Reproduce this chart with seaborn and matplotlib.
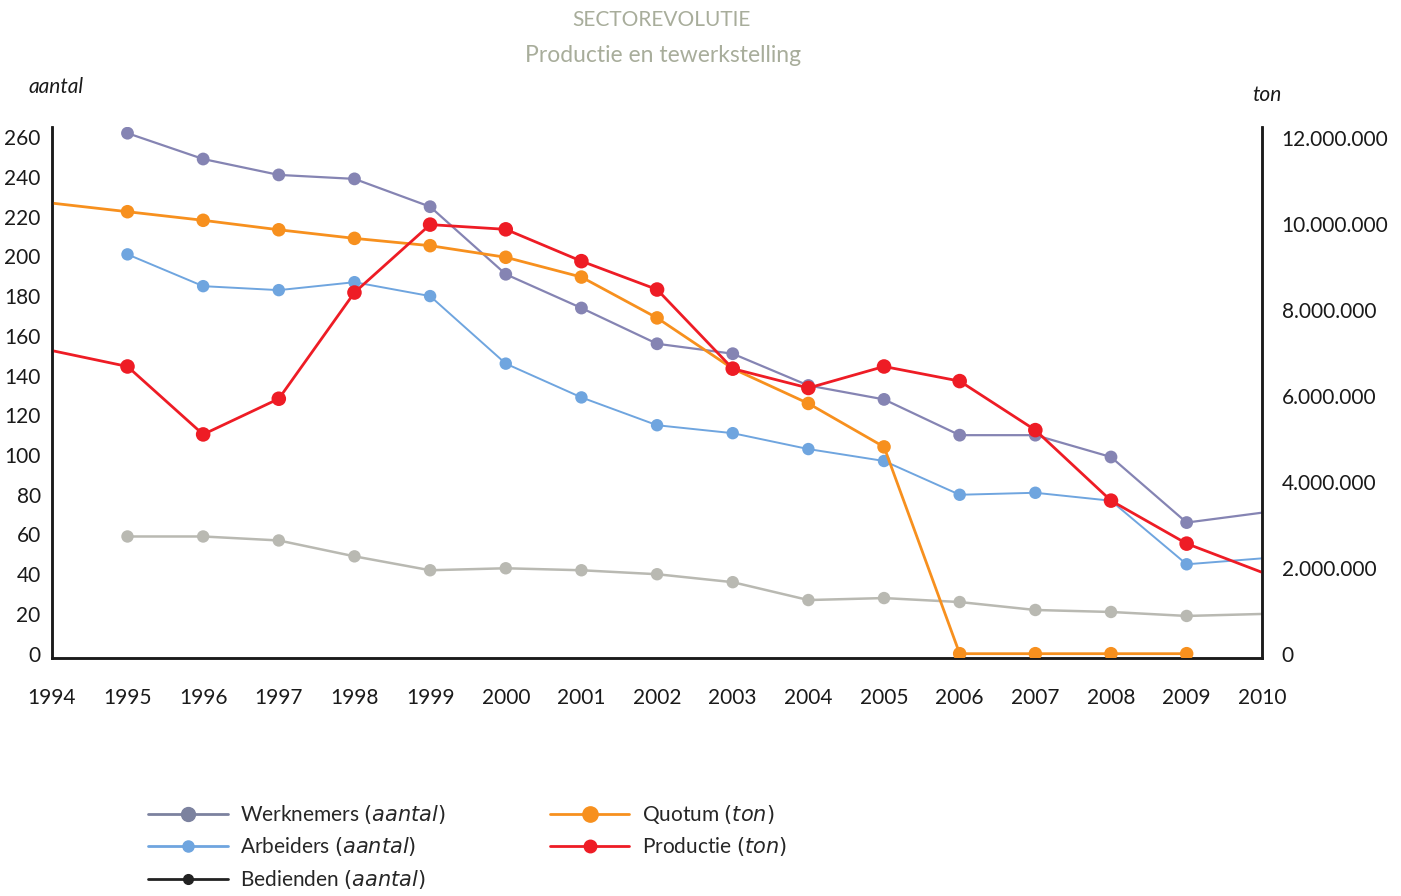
import matplotlib
matplotlib.use("Agg")
import matplotlib.pyplot as plt
import seaborn as sns
import pandas as pd
from matplotlib.lines import Line2D
from matplotlib.ticker import FuncFormatter

years = list(range(1994, 2011))

# aantal (left axis), 1995-2010
werknemers = [262, 249, 241, 239, 225, 191, 174, 156, 151, 135, 128, 110, 110, 99, 66, 71]
arbeiders = [201, 185, 183, 187, 180, 146, 129, 115, 111, 103, 97, 80, 81, 77, 45, 48]
bedienden = [59, 59, 57, 49, 42, 43, 42, 40, 36, 27, 28, 26, 22, 21, 19, 20]

# ton (right axis)
quotum = [10.48e6, 10.28e6, 10.08e6, 9.86e6, 9.66e6, 9.49e6, 9.22e6, 8.76e6, 7.81e6,
          6.63e6, 5.82e6, 4.81e6, 0, 0, 0, 0]  # 1994-2009
productie = [7.05e6, 6.68e6, 5.10e6, 5.93e6, 8.40e6, 9.98e6, 9.87e6, 9.13e6, 8.47e6,
             6.63e6, 6.18e6, 6.68e6, 6.34e6, 5.20e6, 3.56e6, 2.56e6, 1.89e6]  # 1994-2010

df_aantal = pd.DataFrame({"jaar": years[1:], "Werknemers": werknemers,
                          "Arbeiders": arbeiders, "Bedienden": bedienden})
df_quotum = pd.DataFrame({"jaar": years[:-1], "Quotum": quotum})
df_prod = pd.DataFrame({"jaar": years, "Productie": productie})

c_werk = "#8584b3"
c_arb = "#6fa5df"
c_bed = "#b9b9b2"
c_quo = "#f7901e"
c_prod = "#ee1c25"
title_col = "#a8ad9b"

sns.set_style("white")
plt.rcParams["font.family"] = ["Lato", "DejaVu Sans"]

fig = plt.figure(figsize=(14.01, 8.96), dpi=100)
ax = fig.add_axes([0.037, 0.266, 0.864, 0.592])
ax2 = ax.twinx()

scale = 12e6 / 259.7
ymin, ymax = -2, 265
ax.set_ylim(ymin, ymax)
ax2.set_ylim(ymin * scale, ymax * scale)
ax.set_xlim(1994, 2010)

mk = (df_aantal["jaar"] >= 1995) & (df_aantal["jaar"] <= 2009)
for col, c, lw, s in [("Bedienden", c_bed, 1.8, 80),
                      ("Arbeiders", c_arb, 1.4, 80),
                      ("Werknemers", c_werk, 1.6, 85)]:
    sns.lineplot(data=df_aantal, x="jaar", y=col, color=c, lw=lw, ax=ax)
    sns.scatterplot(data=df_aantal[mk], x="jaar", y=col, color=c, s=s,
                    edgecolor="none", ax=ax, zorder=3)

mq = df_quotum["jaar"] >= 1995
sns.lineplot(data=df_quotum, x="jaar", y="Quotum", color=c_quo, lw=2, ax=ax2)
sns.scatterplot(data=df_quotum[mq], x="jaar", y="Quotum", color=c_quo, s=95,
                edgecolor="none", ax=ax2, zorder=3)

mp = (df_prod["jaar"] >= 1995) & (df_prod["jaar"] <= 2009)
sns.lineplot(data=df_prod, x="jaar", y="Productie", color=c_prod, lw=2, ax=ax2)
sns.scatterplot(data=df_prod[mp], x="jaar", y="Productie", color=c_prod, s=110,
                edgecolor="none", ax=ax2, zorder=3)

for a in (ax, ax2):
    a.set_xlabel("")
    a.set_ylabel("")
    a.spines["top"].set_visible(False)
    for sp in ("left", "right", "bottom"):
        a.spines[sp].set_color("#1a1a1a")
        a.spines[sp].set_linewidth(1.8)
    a.tick_params(length=0)

ax.set_yticks(range(0, 261, 20))
ax.set_xticks(years)
ax.tick_params(axis="y", labelsize=15, pad=8, colors="#1a1a1a")
ax.tick_params(axis="x", labelsize=15, pad=22, colors="#1a1a1a")
ax2.set_yticks([0, 2e6, 4e6, 6e6, 8e6, 10e6, 12e6])
ax2.yaxis.set_major_formatter(FuncFormatter(lambda v, p: f"{int(round(v)):,}".replace(",", ".")))
ax2.tick_params(axis="y", labelsize=15, pad=14, colors="#1a1a1a")

fig.text(0.02, 0.896, "aantal", fontsize=15, style="italic", color="#1a1a1a")
fig.text(0.894, 0.887, "ton", fontsize=15, style="italic", color="#1a1a1a")
fig.text(0.472, 0.978, "SECTOREVOLUTIE", fontsize=15, color=title_col, ha="center", va="center")
fig.text(0.473, 0.938, "Productie en tewerkstelling", fontsize=16.5, color=title_col,
         ha="center", va="center")

handles = [
    Line2D([], [], color="#7c829f", lw=2, marker="o", ms=10),
    Line2D([], [], color=c_arb, lw=2, marker="o", ms=8),
    Line2D([], [], color="#222222", lw=2, marker="o", ms=7),
    Line2D([], [], color=c_quo, lw=2, marker="o", ms=11),
    Line2D([], [], color=c_prod, lw=2, marker="o", ms=9),
]
labels = ["Werknemers $\\it{(aantal)}$", "Arbeiders $\\it{(aantal)}$",
          "Bedienden $\\it{(aantal)}$", "Quotum $\\it{(ton)}$", "Productie $\\it{(ton)}$"]
fig.legend(handles, labels, ncol=2, loc="upper left", bbox_to_anchor=(0.1, 0.113),
           frameon=False, fontsize=15, handlelength=3.8, columnspacing=5.0,
           labelspacing=0.45, handletextpad=0.6, borderaxespad=0)

fig.savefig("out.png", dpi=100)
